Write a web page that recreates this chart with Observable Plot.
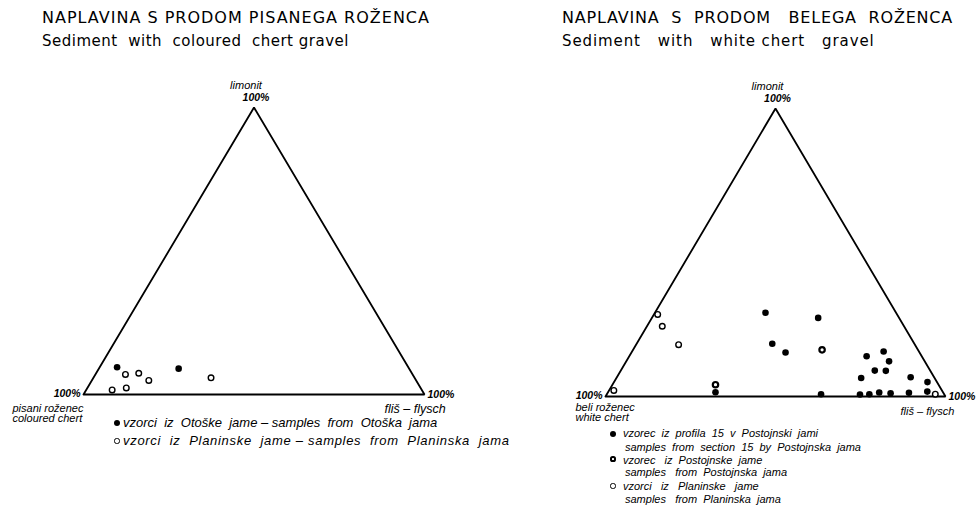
<!DOCTYPE html>
<html><head><meta charset="utf-8">
<script src="https://cdn.jsdelivr.net/npm/d3@7"></script>
<script src="https://cdn.jsdelivr.net/npm/@observablehq/plot@0.6"></script>
<style>
body{margin:0;background:#fff;}
#fig{position:relative;width:980px;height:508px;overflow:hidden;color:#000;}
.panel{position:absolute;top:0;}
.t{position:absolute;white-space:pre;line-height:1;}
.title{font-family:"DejaVu Sans",sans-serif;font-size:16px;letter-spacing:0.8px;}
.sub{font-family:"DejaVu Sans",sans-serif;font-size:15px;letter-spacing:0.2px;}
.leg{font-family:"Liberation Sans",Arial,sans-serif;font-style:italic;}
.b{display:inline-block;border-radius:50%;box-sizing:border-box;vertical-align:middle;}
</style></head><body><div id="fig"></div>
<script>
// ---- text ----
const titlesSl = ["NAPLAVINA S PRODOM PISANEGA ROŽENCA", "NAPLAVINA  S  PRODOM   BELEGA  ROŽENCA"];
const titlesEn = ["Sediment  with  coloured  chert gravel", "Sediment   with   white chert   gravel"];
const apexLabel = ["limonit", "100%"];
const leftCornerLabels = ["pisani roženec\ncoloured chert", "beli roženec\nwhite chert"];
const rightCornerLabel = "fliš – flysch";
const legendLeft = ["vzorci  iz  Otoške  jame – samples  from  Otoška  jama",
                    "vzorci  iz  Planinske  jame – samples  from  Planinska  jama"];
const legendRight = ["vzorec  iz  profila  15  v  Postojnski  jami",
                     "samples  from  section  15  by  Postojnska  jama",
                     "vzorec   iz  Postojnske  jame",
                     "samples   from  Postojnska  jama",
                     "vzorci   iz   Planinske   jame",
                     "samples   from  Planinska  jama"];

// ---- data: percent flysch (fliš) and limonit; chert = remainder ----
// Left: sediment with coloured chert gravel
const otoskaFlysch  = [5.1, 23.4];
const otoskaLimonit = [9.5, 9.0];
const planinskaLFlysch  = [8.8, 12.5, 16.7, 34.5, 7.6, 11.4];
const planinskaLLimonit = [7.0, 7.4, 4.9, 5.8, 1.6, 2.3];
// Right: sediment with white chert gravel
const profilFlysch  = [32.5, 39.9, 31.6, 48.9, 45.3, 69.8, 74.0, 77.3, 74.7, 78.0, 72.0, 86.4, 92.2, 63.0, 74.5, 77.2, 79.8, 83.3, 88.6, 93.8];
const profilLimonit = [29.1, 18.3, 1.5, 27.3, 15.3, 14.0, 15.6, 12.2, 9.0, 8.9, 6.4, 6.7, 5.0, 0.8, 0.7, 0.8, 1.4, 1.1, 1.3, 1.7];
const postojnaFlysch  = [30.3, 55.6];
const postojnaLimonit = [4.1, 16.2];
const planinskaRFlysch  = [1.1, 4.5, 12.5, 1.4, 96.6];
const planinskaRLimonit = [28.5, 24.4, 18.0, 2.1, 0.8];

// ---- ternary helpers ----
const pts = (f, l) => f.map((v, i) => ({flysch: v, limonit: l[i]}));
const V = {left: {flysch: 0, limonit: 0}, right: {flysch: 100, limonit: 0}, top: {flysch: 0, limonit: 100}};
const triangle = [V.left, V.right, V.top, V.left];
const X = d => d.flysch + d.limonit / 2;
const Y = d => d.limonit;
const LF = '"Liberation Sans", Arial, sans-serif';

function lab(v, text, o) {
  return Plot.text([v], {x: X, y: Y, text: () => text, fontStyle: "italic", fontSize: 11,
    fontFamily: LF, fill: "#000", lineHeight: 0.95, ...o});
}

function panel(m, groups, idx) {
  return Plot.plot({
    width: 490, height: 508,
    marginLeft: m[0], marginRight: m[1], marginTop: m[2], marginBottom: m[3],
    x: {domain: [0, 100], axis: null},
    y: {domain: [0, 100], axis: null},
    style: {background: "transparent", overflow: "visible"},
    marks: [
      Plot.line(triangle, {x: X, y: Y, stroke: "#000", strokeWidth: 1.8, strokeLinejoin: "miter"}),
      Plot.dot(groups.filled || [], {x: X, y: Y, r: 3.3, fill: "#000", stroke: "none"}),
      Plot.dot(groups.ring || [], {x: X, y: Y, r: 2.7, fill: "#fff", stroke: "#000", strokeWidth: 2.2}),
      Plot.dot(groups.open || [], {x: X, y: Y, r: 2.8, fill: "#fff", stroke: "#000", strokeWidth: 1.4}),
      lab(V.top, apexLabel[0], {dx: -8, dy: -22}),
      lab(V.top, apexLabel[1], {dx: 2, dy: -10, fontWeight: "bold", fontSize: 10.5}),
      lab(V.left, apexLabel[1], {textAnchor: "end", dx: -3, dy: -1, fontWeight: "bold", fontSize: 10.5}),
      lab(V.right, apexLabel[1], {textAnchor: "start", dx: 3, dy: 0, fontWeight: "bold", fontSize: 10.5}),
      lab(V.left, leftCornerLabels[idx], {textAnchor: "start", dx: idx === 0 ? -71 : -30, dy: idx === 0 ? 10 : 7, lineAnchor: "top"}),
      lab(V.right, rightCornerLabel, {textAnchor: "start", dx: idx === 0 ? -40 : -45, dy: 15, fontSize: idx === 0 ? 12.5 : 11})
    ]
  });
}

const fig = document.getElementById("fig");
const left = panel([83, 66, 107, 114], {
  filled: pts(otoskaFlysch, otoskaLimonit),
  open: pts(planinskaLFlysch, planinskaLLimonit)
}, 0);
left.classList.add("panel"); left.style.left = "0px";
const right = panel([115, 35, 108, 112], {
  filled: pts(profilFlysch, profilLimonit),
  ring: pts(postojnaFlysch, postojnaLimonit),
  open: pts(planinskaRFlysch, planinskaRLimonit)
}, 1);
right.classList.add("panel"); right.style.left = "490px";
fig.append(left, right);

function addText(cls, txt, x, y, extra) {
  const d = document.createElement("div");
  d.className = "t " + cls;
  d.textContent = txt;
  d.style.left = x + "px"; d.style.top = y + "px";
  if (extra) Object.assign(d.style, extra);
  fig.append(d);
  return d;
}
function bullet(kind, cx, cy) {
  const d = document.createElement("div");
  d.className = "b";
  const r = kind === "filled" ? 3 : 2.6;
  Object.assign(d.style, {position: "absolute", left: (cx - r) + "px", top: (cy - r) + "px",
    width: 2 * r + "px", height: 2 * r + "px",
    background: kind === "filled" ? "#000" : "#fff",
    border: kind === "filled" ? "none" : (kind === "ring" ? "2px solid #000" : "1.3px solid #000")});
  fig.append(d);
}

// titles
addText("title", titlesSl[0], 42, 10, {letterSpacing: "1.0px"});
addText("sub", titlesEn[0], 42, 34, {letterSpacing: "0.5px"});
addText("title", titlesSl[1], 562, 10);
addText("sub", titlesEn[1], 562, 34, {letterSpacing: "0.9px"});

// left legend
bullet("filled", 117, 423);
addText("leg", legendLeft[0], 123, 416, {fontSize: "13px"});
bullet("open", 117, 441);
addText("leg", legendLeft[1], 123, 434, {fontSize: "13px", letterSpacing: "0.7px"});

// right legend
const ry = [434, 448, 461, 473, 487, 500];
bullet("filled", 613, ry[0]);
bullet("ring", 613, ry[2] - 2);
bullet("open", 613, ry[4] - 1);
legendRight.forEach((s, i) => addText("leg", s, i % 2 ? 625 : 623, ry[i] - 6, {fontSize: "11px"}));
</script></body></html>
